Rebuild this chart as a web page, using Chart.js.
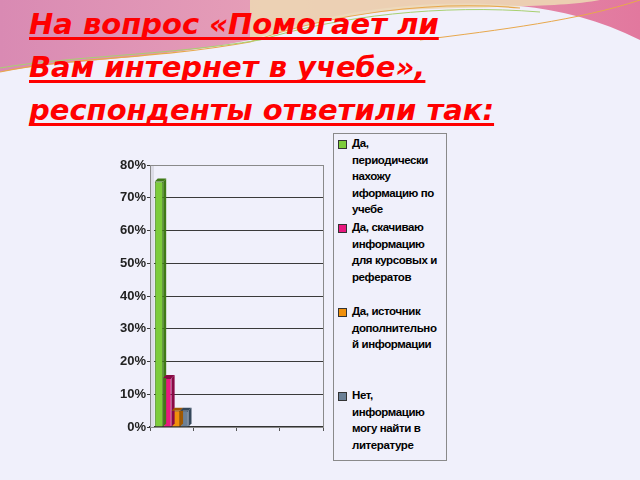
<!DOCTYPE html>
<html>
<head>
<meta charset="utf-8">
<script src="https://cdn.jsdelivr.net/npm/chart.js@4"></script>
<style>
  html, body { margin: 0; padding: 0; }
  body {
    width: 640px; height: 480px; position: relative; overflow: hidden;
    background: #f0f0fb;
  }
  #deco { position: absolute; left: 0; top: 0; }
  #title {
    position: absolute; left: 29px; top: 3px; margin: 0;
    font-family: "DejaVu Sans", Verdana, sans-serif;
    font-weight: bold; font-style: italic;
    font-size: 29px; line-height: 43px; color: #ff0000;
    text-decoration: underline; text-decoration-thickness: 3px;
    text-decoration-skip-ink: none;
    text-underline-offset: 3px; letter-spacing: 0px;
  }
  #wrap { position: absolute; left: 100px; top: 150px; width: 230px; height: 290px; }
  #legend {
    position: absolute; left: 333px; top: 133px; width: 112px; height: 326px;
    border: 1px solid #8a8a8a; background: #f0f0fb;
    font-family: "Liberation Sans", Arial, sans-serif; font-weight: 700;
    font-size: 11.5px; line-height: 16.5px; color: #000; letter-spacing: -0.4px;
  }
  .item { position: absolute; left: 0; width: 112px; }
  .box {
    position: absolute; left: 4px; top: 5px; width: 7px; height: 7px;
    border: 1px solid #333;
  }
  .txt { position: absolute; left: 18px; top: 0px; white-space: nowrap; }
</style>
</head>
<body>
<svg id="deco" width="640" height="140" viewBox="0 0 640 140">
  <defs>
    <linearGradient id="pk" x1="0" y1="0" x2="1" y2="0">
      <stop offset="0" stop-color="#d98ab3"/>
      <stop offset="0.45" stop-color="#e7a0b8"/>
      <stop offset="1" stop-color="#e2789e"/>
    </linearGradient>
  </defs>
  <path d="M0 0 H640 V40 C600 20 560 10 520 6 C430 -2 330 10 250 40 C150 60 60 60 0 72 Z" fill="url(#pk)"/>
  <path d="M250 0 H600 C560 8 480 6 400 10 C330 16 290 30 250 40 Z" fill="#ecd6b4" opacity="0.9"/>
  <path d="M0 72 C60 58 150 60 250 42 C330 14 430 0 520 8" stroke="#e8a84c" stroke-width="1.2" fill="none"/>
  <path d="M0 68 C70 56 160 56 260 40 C340 16 440 4 540 12" stroke="#a8d070" stroke-width="1" fill="none"/>
  <path d="M420 40 C500 30 580 20 640 0" stroke="#e8a84c" stroke-width="1" fill="none"/>
</svg>
<h1 id="title">На вопрос «Помогает ли<br>Вам интернет в учебе»,<br>респонденты ответили так:</h1>
<div id="wrap"><canvas id="chart"></canvas></div>
<div id="legend"></div>
<script>
// Categories (only the first slot carries data)
const categories = ['', '', '', ''];

// Series labels, split as in the legend
const seriesLines = [
  ['Да,', 'периодически', 'нахожу', 'иформацию по', 'учебе'],
  ['Да, скачиваю', 'информацию', 'для курсовых и', 'рефератов'],
  ['Да, источник', 'дополнительно', 'й информации'],
  ['Нет,', 'информацию', 'могу найти в', 'литературе']
];

// Series values, percent
const seriesValues = [
  [75, null, null, null],
  [15, null, null, null],
  [5, null, null, null],
  [5, null, null, null]
];

const seriesColors = ['#7dcc3a', '#e8187f', '#f0900c', '#6b8096'];
const sideColors = ['#3f7a16', '#8a0a45', '#a05800', '#34475a'];

// Y axis ticks
const yTicks = [0, 10, 20, 30, 40, 50, 60, 70, 80];

// Build legend
const legend = document.getElementById('legend');
seriesLines.forEach((lines, i) => {
  const item = document.createElement('div');
  item.className = 'item';
  item.style.top = (1 + i * 84) + 'px';
  item.innerHTML = `<div class="box" style="background:${seriesColors[i]}"></div>` +
    `<div class="txt">${lines.join('<br>')}</div>`;
  legend.appendChild(item);
});

// 3D-ish depth on bars and chart frame
const depthPlugin = {
  id: 'depth',
  beforeDatasetsDraw(chart) {
    const { ctx, chartArea: a } = chart;
    ctx.save();
    // left wall
    ctx.fillStyle = '#dcdce6';
    ctx.fillRect(a.left, a.top, 4, a.bottom - a.top);
    ctx.strokeStyle = '#8a8a8a';
    ctx.lineWidth = 1;
    ctx.strokeRect(a.left + 0.5, a.top + 0.5, a.right - a.left, a.bottom - a.top);
    ctx.restore();
  },
  afterDatasetsDraw(chart) {
    const ctx = chart.ctx;
    const d = 3;
    ctx.save();
    chart.data.datasets.forEach((ds, i) => {
      chart.getDatasetMeta(i).data.forEach((bar, j) => {
        if (ds.data[j] == null) return;
        const l = bar.x - bar.width / 2, r = bar.x + bar.width / 2;
        ctx.fillStyle = sideColors[i];
        ctx.beginPath();
        ctx.moveTo(r, bar.base);
        ctx.lineTo(r, bar.y);
        ctx.lineTo(r + d, bar.y - d);
        ctx.lineTo(r + d, bar.base - d);
        ctx.closePath();
        ctx.fill();
        ctx.beginPath();
        ctx.moveTo(l, bar.y);
        ctx.lineTo(l + d, bar.y - d);
        ctx.lineTo(r + d, bar.y - d);
        ctx.lineTo(r, bar.y);
        ctx.closePath();
        ctx.fill();
      });
    });
    ctx.restore();
  }
};

new Chart(document.getElementById('chart'), {
  type: 'bar',
  data: {
    labels: categories,
    datasets: seriesLines.map((lines, i) => ({
      label: lines.join(' '),
      data: seriesValues[i],
      backgroundColor: seriesColors[i],
      borderColor: sideColors[i],
      borderWidth: 1,
      categoryPercentage: 0.78,
      barPercentage: 1.0
    }))
  },
  options: {
    responsive: true,
    maintainAspectRatio: false,
    animation: false,
    layout: { padding: { top: 15, right: 7, left: 0, bottom: 0 } },
    plugins: { legend: { display: false }, tooltip: { enabled: false } },
    scales: {
      x: {
        grid: { display: true, drawOnChartArea: false, tickLength: 4, color: '#555', offset: true },
        border: { color: '#333', width: 1.5 },
        ticks: { display: false },
        afterFit: s => { s.height = 13; }
      },
      y: {
        min: 0, max: 80,
        afterBuildTicks: s => { s.ticks = yTicks.map(v => ({ value: v })); },
        grid: { color: '#3a3a3a', lineWidth: 1, tickLength: 3 },
        border: { color: '#888' },
        ticks: {
          padding: 1,
          color: '#222',
          font: { family: 'Liberation Sans', weight: 'bold', size: 13 },
          callback: v => v + '%'
        },
        afterFit: s => { s.width = 50; }
      }
    }
  },
  plugins: [depthPlugin]
});
</script>
</body>
</html>
